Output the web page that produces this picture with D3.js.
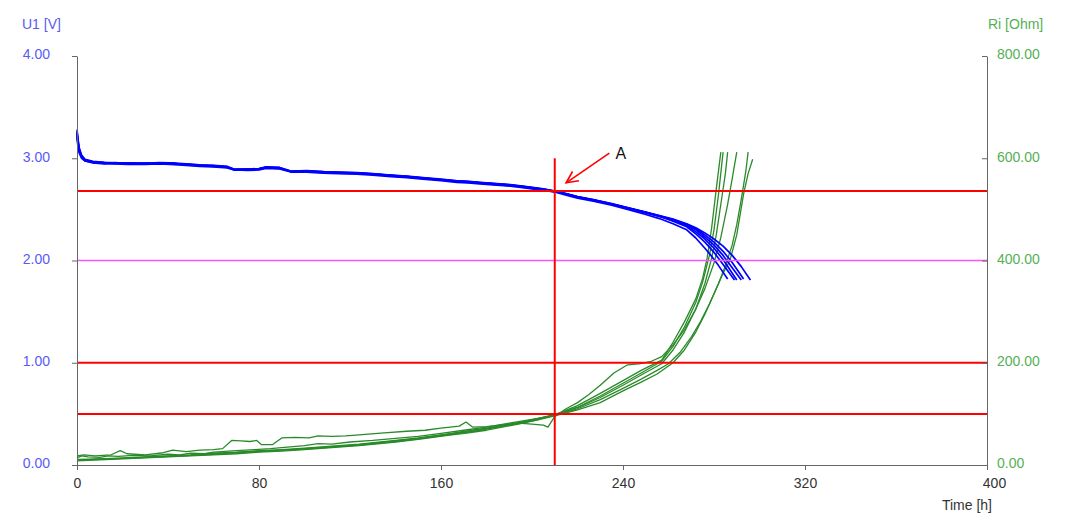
<!DOCTYPE html>
<html><head><meta charset="utf-8">
<script src="https://cdn.jsdelivr.net/npm/d3@7"></script>
<style>
html,body{margin:0;padding:0;background:#fff;}
svg{display:block;font-family:"Liberation Sans",Arial,sans-serif;}
</style></head>
<body>
<svg id="chart" width="1080" height="527"></svg>
<script>
// ---------- tick labels / references ----------
const timeTicks = [0, 80, 160, 240, 320, 400];
const voltTicks = [0, 1, 2, 3, 4];
const riTicks = [0, 200, 400, 600, 800];
const redVolt = [2.68, 1.00, 0.50];
const magentaVolt = [2.00];
const markerTime = 210;
const markerTop = 3.0;
const arrowFrom = [234, 3.05];
const arrowTo = [215, 2.76];
const arrowLabel = [239, 3.03];

// ---------- voltage curves (U1 [V]) ----------
const uTimes = [0,0.5,1,2,3.5,7,12,17,22,30,36,41,48,54,60,66,69,75,80,83,89,94,101,108,115,123,130,138,145,152,160,167,172,177,183,189,195,200,205,210,215,220,227,235,242,250,256,262,268];
const u1 = [3.22,3.12,3.06,3.01,2.975,2.955,2.945,2.945,2.94,2.94,2.945,2.94,2.93,2.92,2.915,2.905,2.885,2.88,2.885,2.9,2.895,2.865,2.865,2.855,2.85,2.845,2.835,2.82,2.81,2.795,2.78,2.765,2.76,2.75,2.74,2.73,2.715,2.70,2.685,2.67,2.64,2.61,2.58,2.54,2.50,2.45,2.41,2.36,2.30];
const u1Tail = [[272,2.22],[276,2.12],[279,2.04],[282,1.95],[286,1.82]];
const u2 = [3.26,3.16,3.09,3.03,2.99,2.97,2.96,2.955,2.955,2.95,2.958,2.955,2.945,2.935,2.93,2.92,2.895,2.893,2.9,2.915,2.91,2.875,2.88,2.87,2.865,2.86,2.85,2.835,2.825,2.81,2.795,2.78,2.775,2.765,2.755,2.745,2.73,2.715,2.70,2.68,2.655,2.625,2.595,2.555,2.515,2.47,2.435,2.385,2.33];
const u2Tail = [[272,2.26],[276,2.18],[280,2.08],[284,1.96],[289,1.81]];
const u3 = [3.28,3.18,3.10,3.03,2.985,2.965,2.955,2.952,2.95,2.948,2.952,2.95,2.94,2.93,2.925,2.915,2.89,2.89,2.895,2.91,2.905,2.87,2.875,2.865,2.86,2.855,2.845,2.83,2.82,2.805,2.79,2.775,2.77,2.76,2.75,2.74,2.725,2.71,2.695,2.675,2.65,2.62,2.59,2.55,2.51,2.465,2.43,2.39,2.34];
const u3Tail = [[272,2.28],[276,2.21],[280,2.12],[284,2.01],[287,1.91],[290,1.81]];
const u4 = [3.20,3.10,3.05,3.00,2.975,2.96,2.95,2.958,2.945,2.952,2.948,2.955,2.935,2.928,2.92,2.912,2.887,2.895,2.89,2.905,2.9,2.873,2.87,2.868,2.855,2.852,2.842,2.828,2.815,2.802,2.788,2.772,2.765,2.758,2.745,2.735,2.722,2.708,2.69,2.672,2.648,2.618,2.588,2.55,2.512,2.468,2.433,2.395,2.345];
const u4Tail = [[272,2.30],[276,2.23],[280,2.15],[284,2.05],[288,1.93],[292,1.81]];
const u5 = [3.24,3.14,3.07,3.02,2.98,2.962,2.958,2.948,2.952,2.945,2.955,2.948,2.942,2.932,2.922,2.918,2.892,2.888,2.898,2.908,2.902,2.868,2.878,2.862,2.862,2.858,2.848,2.832,2.818,2.808,2.792,2.778,2.772,2.762,2.752,2.742,2.728,2.712,2.698,2.678,2.652,2.622,2.592,2.552,2.514,2.47,2.437,2.40,2.355];
const u5Tail = [[272,2.31],[276,2.25],[280,2.18],[284,2.09],[288,1.98],[293,1.82]];
const u6 = [3.25,3.15,3.08,3.02,2.98,2.96,2.952,2.955,2.948,2.95,2.95,2.952,2.938,2.93,2.928,2.91,2.888,2.892,2.893,2.912,2.908,2.872,2.872,2.87,2.858,2.855,2.845,2.832,2.822,2.806,2.79,2.776,2.77,2.76,2.75,2.74,2.726,2.71,2.695,2.676,2.652,2.622,2.594,2.556,2.518,2.474,2.44,2.405,2.36];
const u6Tail = [[272,2.32],[276,2.27],[280,2.21],[284,2.14],[288,2.05],[292,1.94],[296,1.81]];

// ---------- internal resistance curves (Ri [Ohm]) ----------
const r1 = [[0,8],[10,10],[20,12],[30,14],[40,16],[50,18],[60,20],[70,22],[80,25],[90,27],[100,30],[112,34],[124,38],[140,45],[150,50],[163,58],[172,63],[180,68],[194,80],[202,88],[210,98],[220,116],[230,140],[240,165],[248,185],[257,205],[262,240],[267,280],[272,325],[275,365],[277,405],[279,465],[281,540],[283,612]];
const r2 = [[0,10],[10,11],[20,13],[30,15],[40,17],[50,19],[60,21],[70,24],[80,26],[90,29],[100,32],[112,36],[124,40],[140,47],[150,52],[163,60],[172,65],[180,71],[194,83],[202,90],[210,97],[220,113],[230,135],[240,160],[248,180],[257,203],[262,232],[267,270],[272,318],[275,358],[278,410],[280,460],[282,530],[284,612]];
const r3 = [[0,9],[10,12],[20,14],[30,16],[40,18],[50,20],[60,23],[70,25],[80,28],[90,30],[100,33],[112,37],[124,41],[140,48],[150,53],[163,61],[172,67],[180,72],[194,82],[202,90],[210,99],[220,112],[230,132],[240,156],[248,176],[257,198],[262,225],[267,260],[272,305],[276,355],[279,405],[281,450],[283,510],[285,570],[286,612]];
const r4 = [[0,18],[3,20],[8,18],[15,20],[19,28],[22,22],[30,20],[38,24],[42,29],[48,26],[54,29],[60,30],[64,32],[68,48],[72,47],[76,46],[79,48],[81,40],[86,40],[90,53],[96,54],[102,53],[106,57],[112,56],[118,57],[124,59],[135,63],[145,66],[153,68],[160,72],[168,76],[171,84],[174,74],[180,75],[188,79],[194,82],[200,80],[205,78],[207,74],[210,95],[215,110],[220,122],[225,138],[230,156],[236,180],[242,196],[247,198],[252,202],[257,212],[262,235],[267,265],[272,305],[276,345],[280,395],[283,445],[286,510],[288,560],[290,612]];
const r5 = [[0,14],[2,18],[5,16],[10,15],[14,18],[18,17],[25,19],[32,18],[40,21],[45,20],[50,23],[56,22],[60,25],[70,28],[78,30],[85,32],[95,36],[100,38],[106,42],[112,41],[120,45],[130,48],[140,52],[150,56],[160,62],[170,68],[180,74],[190,82],[200,89],[210,97],[220,110],[230,128],[240,150],[248,168],[255,185],[260,198],[265,220],[270,250],[274,280],[278,315],[282,355],[285,390],[288,430],[290,470],[292,520],[294,575],[295,612]];
const r6 = [[0,11],[10,12],[20,13],[30,15],[40,17],[50,19],[60,22],[70,24],[80,27],[90,29],[100,31],[112,35],[124,39],[140,46],[150,51],[163,59],[172,64],[180,70],[194,81],[202,88],[210,96],[220,108],[230,122],[240,145],[248,162],[255,178],[262,200],[267,225],[272,260],[276,295],[280,335],[284,375],[287,400],[290,450],[293,530],[295,570],[297,598]];

// ---------- build ----------
const svg = d3.select("#chart");
const x = d3.scaleLinear().domain([0, 400]).range([77, 987]);
const yU = d3.scaleLinear().domain([0, 4]).range([465, 56]);
const yR = d3.scaleLinear().domain([0, 800]).range([465, 56]);

const blueCol = "#0000ff", greenCol = "#2a8a2a";
const leftCol = "#5a5af5", rightCol = "#55b055", axisCol = "#666";

function joinU(vals, tail) { return uTimes.map((t, i) => [t, vals[i]]).concat(tail); }
const uSeries = [joinU(u1,u1Tail), joinU(u2,u2Tail), joinU(u3,u3Tail), joinU(u4,u4Tail), joinU(u5,u5Tail), joinU(u6,u6Tail)];
const rSeries = [r1, r2, r3, r4, r5, r6];

const lineU = d3.line().x(d => x(d[0])).y(d => yU(d[1]));
const lineR = d3.line().x(d => x(d[0])).y(d => yR(d[1]));

// curves
svg.append("g").selectAll("path").data(rSeries).join("path")
  .attr("d", lineR).attr("fill", "none").attr("stroke", greenCol)
  .attr("stroke-width", 1.3).attr("stroke-linejoin", "round");
svg.append("g").selectAll("path").data(uSeries).join("path")
  .attr("d", lineU).attr("fill", "none").attr("stroke", blueCol)
  .attr("stroke-width", 1.7).attr("stroke-linejoin", "round");

// reference lines
svg.append("g").selectAll("line").data(magentaVolt).join("line")
  .attr("x1", x(0)).attr("x2", x(400)).attr("y1", d => yU(d)).attr("y2", d => yU(d))
  .attr("stroke", "#ff50ff").attr("stroke-width", 1.5);
svg.append("g").selectAll("line").data(redVolt).join("line")
  .attr("x1", x(0)).attr("x2", x(400)).attr("y1", d => yU(d)).attr("y2", d => yU(d))
  .attr("stroke", "#ff0000").attr("stroke-width", 2);
svg.append("line")
  .attr("x1", x(markerTime)).attr("x2", x(markerTime))
  .attr("y1", yU(markerTop)).attr("y2", yU(0))
  .attr("stroke", "#ff0000").attr("stroke-width", 2);

// arrow annotation
const ax1 = x(arrowFrom[0]), ay1 = yU(arrowFrom[1]);
const ax2 = x(arrowTo[0]), ay2 = yU(arrowTo[1]);
const ang = Math.atan2(ay1 - ay2, ax1 - ax2);
const headLen = 13, headAng = 0.45;
const arrowG = svg.append("g").attr("stroke", "#ff0000").attr("stroke-width", 1.6).attr("fill", "none");
arrowG.append("line").attr("x1", ax1).attr("y1", ay1).attr("x2", ax2).attr("y2", ay2);
arrowG.append("path").attr("d",
  `M${ax2 + headLen * Math.cos(ang + headAng)},${ay2 + headLen * Math.sin(ang + headAng)}` +
  `L${ax2},${ay2}` +
  `L${ax2 + headLen * Math.cos(ang - headAng)},${ay2 + headLen * Math.sin(ang - headAng)}`);
svg.append("text").attr("x", x(arrowLabel[0])).attr("y", yU(arrowLabel[1]))
  .attr("dominant-baseline", "middle").attr("text-anchor", "middle")
  .attr("font-size", 16).attr("fill", "#111").text("A");

// axes
function styleAxis(g, col) {
  g.select(".domain").attr("stroke", axisCol);
  g.selectAll(".tick line").attr("stroke", axisCol);
  g.selectAll(".tick text").attr("fill", col).attr("font-size", 14)
    .attr("font-family", "Liberation Sans, Arial, sans-serif");
}
const gx = svg.append("g").attr("transform", "translate(0,465)")
  .call(d3.axisBottom(x).tickValues(timeTicks).tickFormat(d3.format("d")).tickSize(5).tickSizeOuter(0).tickPadding(8));
styleAxis(gx, "#333");
gx.selectAll(".tick text").filter(d => d === 400).attr("dx", 7);

const gl = svg.append("g").attr("transform", "translate(77,0)")
  .call(d3.axisLeft(yU).tickValues(voltTicks).tickFormat(d3.format(".2f")).tickSize(5).tickSizeOuter(0).tickPadding(22));
styleAxis(gl, leftCol);
gl.selectAll(".tick text").attr("dy", "0.2em");

const gr = svg.append("g").attr("transform", "translate(987,0)")
  .call(d3.axisRight(yR).tickValues(riTicks).tickFormat(d3.format(".2f")).tickSizeInner(-5).tickSizeOuter(0).tickPadding(10));
styleAxis(gr, rightCol);
gr.selectAll(".tick text").attr("dy", "0.2em");

// titles
svg.append("text").attr("x", 22).attr("y", 25).attr("dominant-baseline", "middle")
  .attr("font-size", 14).attr("fill", leftCol).text("U1 [V]");
svg.append("text").attr("x", 988).attr("y", 25).attr("dominant-baseline", "middle")
  .attr("font-size", 14).attr("fill", rightCol).text("Ri [Ohm]");
svg.append("text").attr("x", 992).attr("y", 506).attr("dominant-baseline", "middle")
  .attr("text-anchor", "end").attr("font-size", 14).attr("fill", "#333").text("Time [h]");
</script>
</body></html>
